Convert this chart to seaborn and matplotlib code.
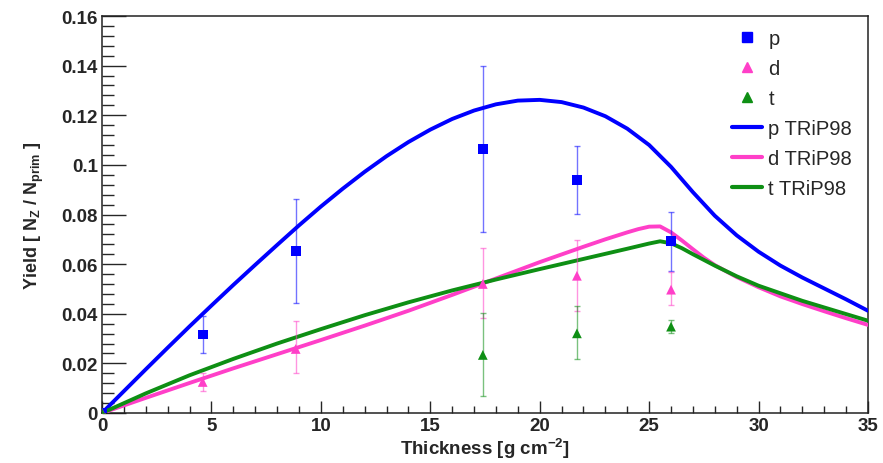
import numpy as np
import pandas as pd
import seaborn as sns
import matplotlib
matplotlib.use("Agg")
import matplotlib.pyplot as plt
from matplotlib.ticker import MultipleLocator, FuncFormatter
from matplotlib.lines import Line2D

# measured yields (x = thickness, y = yield, lo/hi = error bar ends)
p_x = [0, 4.6, 8.85, 17.4, 21.7, 26.0]
p_y = [0, 0.0316, 0.0654, 0.1064, 0.0939, 0.0693]
p_lo = [0, 0.0240, 0.0445, 0.0728, 0.0801, 0.0574]
p_hi = [0, 0.0390, 0.0862, 0.1400, 0.1077, 0.0809]

d_x = [0, 4.6, 8.85, 17.4, 21.7, 26.0]
d_y = [0, 0.0125, 0.0258, 0.0520, 0.0553, 0.0497]
d_lo = [0, 0.0090, 0.0160, 0.0383, 0.0412, 0.0435]
d_hi = [0, 0.0160, 0.0370, 0.0664, 0.0699, 0.0570]

t_x = [0, 17.4, 21.7, 26.0]
t_y = [0, 0.0234, 0.0321, 0.0348]
t_lo = [0, 0.0070, 0.0218, 0.0321]
t_hi = [0, 0.0403, 0.0432, 0.0376]

# TRiP98 calculations
p_calc_x = [0, 1, 2, 3, 4, 5, 6, 7, 8, 9, 10, 11, 12, 13, 14, 15, 16, 17, 18,
            19, 20, 21, 22, 23, 24, 25, 26, 27, 28, 29, 30, 31, 32, 33, 34, 35]
p_calc_y = [0, 0.0088, 0.0176, 0.0263, 0.0349, 0.0433, 0.0516, 0.0597,
            0.0677, 0.0756, 0.0832, 0.0904, 0.0972, 0.1035, 0.1092, 0.1142,
            0.1185, 0.1219, 0.1244, 0.1259, 0.1262, 0.1253, 0.1231, 0.1196,
            0.1146, 0.1080, 0.0992, 0.0890, 0.0795, 0.0716, 0.0650, 0.0594,
            0.0546, 0.0502, 0.0458, 0.0412]

d_calc_x = [0, 2, 4, 6, 8, 10, 12, 14, 16, 18, 20, 22, 23, 24, 24.5, 25,
            25.5, 26, 26.5, 27, 27.5, 28, 29, 30, 31, 32, 33, 34, 35]
d_calc_y = [0, 0.0061, 0.0121, 0.0180, 0.0237, 0.0294, 0.0352, 0.0412,
            0.0476, 0.0542, 0.0608, 0.0670, 0.0700, 0.0728, 0.0741, 0.0751,
            0.0752, 0.0728, 0.0695, 0.0660, 0.0626, 0.0596, 0.0548, 0.0507,
            0.0470, 0.0439, 0.0410, 0.0382, 0.0355]

t_calc_x = [0, 2, 4, 6, 8, 10, 12, 14, 16, 18, 20, 22, 24, 25, 25.5, 26,
            26.5, 27, 28, 29, 30, 32, 35]
t_calc_y = [0, 0.0079, 0.0152, 0.0218, 0.0280, 0.0338, 0.0394, 0.0446,
            0.0494, 0.0538, 0.0580, 0.0621, 0.0662, 0.0683, 0.0692, 0.0684,
            0.0664, 0.0640, 0.0594, 0.0551, 0.0513, 0.0452, 0.0372]

blue = "#0000ff"
pink = "#ff3fc8"
green = "#0e8f14"

sns.set_style("ticks")
plt.rcParams["font.family"] = ["Liberation Sans", "DejaVu Sans"]
plt.rcParams["mathtext.fontset"] = "custom"
plt.rcParams["mathtext.rm"] = "Liberation Sans:bold"
plt.rcParams["mathtext.it"] = "Liberation Sans:bold"
plt.rcParams["mathtext.bf"] = "Liberation Sans:bold"

fig = plt.figure(figsize=(8.83, 4.64), dpi=100)
ax = fig.add_axes([102 / 883, 50 / 464, 766 / 883, 397 / 464])

# curves
for cx, cy, col in [(p_calc_x, p_calc_y, blue), (d_calc_x, d_calc_y, pink),
                    (t_calc_x, t_calc_y, green)]:
    sns.lineplot(x=cx, y=cy, color=col, linewidth=2.8, ax=ax, zorder=3)

# data points with error bars
for xs, ys, lo, hi, col, mk in [
        (p_x, p_y, p_lo, p_hi, blue, "s"),
        (d_x, d_y, d_lo, d_hi, pink, "^"),
        (t_x, t_y, t_lo, t_hi, green, "^")]:
    ys = np.array(ys)
    err = [ys - np.array(lo), np.array(hi) - ys]
    ax.errorbar(xs, ys, yerr=err, fmt="none", ecolor=col, elinewidth=1,
                capsize=2, capthick=1, alpha=0.55, zorder=4)
    sns.scatterplot(x=xs, y=ys, color=col, marker=mk, s=49,
                    edgecolor="none", ax=ax, zorder=5)

ax.set_xlim(0, 35)
ax.set_ylim(0, 0.16)
ax.xaxis.set_major_locator(MultipleLocator(5))
ax.xaxis.set_minor_locator(MultipleLocator(1))
ax.yaxis.set_major_locator(MultipleLocator(0.02))
ax.yaxis.set_minor_locator(MultipleLocator(0.004))
fmt = FuncFormatter(lambda v, pos: "%g" % round(v, 6))
ax.xaxis.set_major_formatter(fmt)
ax.yaxis.set_major_formatter(fmt)
ax.tick_params(axis="both", which="both", direction="in", width=1,
               labelsize=13.5, top=False, right=False)
ax.tick_params(axis="y", which="major", length=17, pad=3)
ax.tick_params(axis="y", which="minor", length=8.5)
ax.tick_params(axis="x", which="major", length=9, pad=3)
ax.tick_params(axis="x", which="minor", length=5)
for lab in ax.get_xticklabels() + ax.get_yticklabels():
    lab.set_fontweight("bold")
for s in ax.spines.values():
    s.set_linewidth(1.1)
    s.set_color("#222222")

ax.set_xlabel("Thickness [g cm$^{-2}$]", fontsize=13.5, fontweight="bold",
              labelpad=1)
ax.set_ylabel("Yield [ N$_{Z}$ / N$_{prim}$ ]", fontsize=13,
              fontweight="bold", labelpad=11)

handles = [
    Line2D([], [], color=blue, marker="s", linestyle="none", markersize=7),
    Line2D([], [], color=pink, marker="^", linestyle="none", markersize=7),
    Line2D([], [], color=green, marker="^", linestyle="none", markersize=7),
    Line2D([], [], color=blue, linewidth=3),
    Line2D([], [], color=pink, linewidth=3),
    Line2D([], [], color=green, linewidth=3),
]
labels = ["p", "d", "t", "p TRiP98", "d TRiP98", "t TRiP98"]
ax.legend(handles, labels, loc="upper left", bbox_to_anchor=(0.8225, 0.966),
          frameon=False, fontsize=14.5, handlelength=1.5, handletextpad=0.3,
          labelspacing=0.54, borderpad=0, borderaxespad=0)

fig.savefig("out.png", dpi=100)
